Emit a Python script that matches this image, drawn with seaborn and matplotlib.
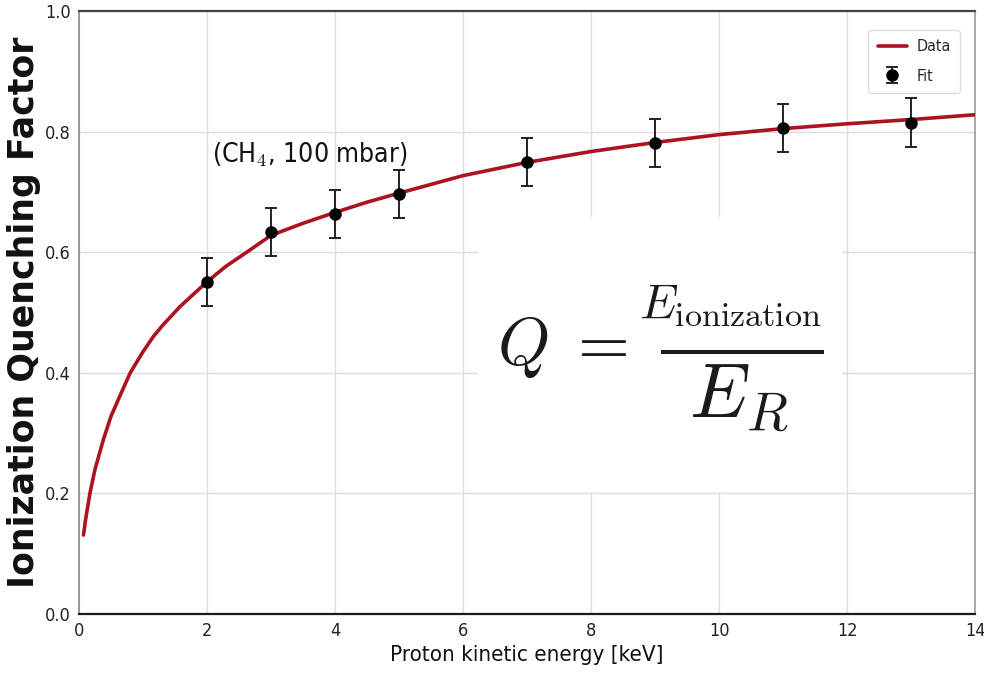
import matplotlib
matplotlib.use("Agg")
import matplotlib.pyplot as plt
import seaborn as sns
import pandas as pd
from matplotlib.patches import Rectangle

# ---- data ----
energy_pts = [2, 3, 4, 5, 7, 9, 11, 13]
quench_pts = [0.551, 0.634, 0.663, 0.697, 0.750, 0.781, 0.806, 0.815]
quench_err = [0.04, 0.04, 0.04, 0.04, 0.04, 0.04, 0.04, 0.04]

curve_x = [0.07, 0.10, 0.17, 0.25, 0.38, 0.50, 0.64, 0.80, 1.00, 1.16, 1.30, 1.58,
           2.00, 2.30, 2.62, 3.00, 3.50, 4.00, 4.50, 5.00, 6.00, 7.00, 8.00, 9.00,
           10.0, 11.0, 12.0, 13.0, 14.0]
curve_y = [0.131, 0.155, 0.200, 0.240, 0.289, 0.328, 0.362, 0.400, 0.435, 0.460,
           0.478, 0.510, 0.551, 0.577, 0.600, 0.628, 0.648, 0.666, 0.683, 0.698,
           0.727, 0.749, 0.767, 0.782, 0.795, 0.805, 0.813, 0.820, 0.828]

x_ticks = [0, 2, 4, 6, 8, 10, 12, 14]
y_ticks = [0.0, 0.2, 0.4, 0.6, 0.8, 1.0]

sns.set_theme(style="whitegrid")
plt.rcParams["font.family"] = ["DejaVu Sans"]
plt.rcParams["font.stretch"] = "condensed"
plt.rcParams["mathtext.fontset"] = "cm"

fig = plt.figure(figsize=(9.84, 6.84), dpi=100)
ax = fig.add_axes([0.0803, 0.1023, 0.9107, 0.8816])

curve_df = pd.DataFrame({"E": curve_x, "Q": curve_y})
sns.lineplot(data=curve_df, x="E", y="Q", ax=ax, color="#ad1220", linewidth=2.6,
             label="Data", zorder=3)
ax.errorbar(energy_pts, quench_pts, yerr=quench_err, fmt="o", color="black",
            ecolor="#222222", elinewidth=1.4, capsize=4, capthick=1.4,
            markersize=8, label="Fit", zorder=4)

ax.set_xlim(0, 14)
ax.set_ylim(0, 1.0)
ax.set_xticks(x_ticks)
ax.set_yticks(y_ticks)
ax.set_xticklabels([str(t) for t in x_ticks], fontsize=13, color="#222222")
ax.set_yticklabels([f"{t:.1f}" for t in y_ticks], fontsize=13, color="#222222")
ax.tick_params(axis="both", which="major", length=4, width=1, color="#555555", pad=2)
ax.grid(True, color="#dedede", linewidth=1)

for side, col in {"left": "#8a8a8a", "top": "#444444", "bottom": "#1a1a1a", "right": "#9a9a9a"}.items():
    ax.spines[side].set_visible(True)
    ax.spines[side].set_color(col)
    ax.spines[side].set_linewidth(1.6 if side in ("top", "bottom") else 1.2)

ax.set_xlabel("Proton kinetic energy [keV]", fontsize=16, color="#111111", labelpad=3)
ax.set_ylabel("Ionization Quenching Factor", fontsize=25, fontweight="bold",
              fontstretch="normal", color="#111111")
ax.yaxis.set_label_coords(-0.042, 0.5)

ax.text(2.08, 0.762, "(CH$_4$, 100 mbar)", fontsize=19, color="#111111",
        va="center", ha="left", zorder=5)

# white panel with the formula
ax.add_patch(Rectangle((0.4453, 0.203), 0.4063, 0.455, transform=ax.transAxes,
                       facecolor="white", edgecolor="none", zorder=2.5))
fcol = "#1a1a1a"
ax.text(0.4665, 0.443, r"$Q\;=$", transform=ax.transAxes, fontsize=48,
        color=fcol, ha="left", va="center", zorder=6)
ax.text(0.7266, 0.491, r"$E_{\rm ionization}$", transform=ax.transAxes, fontsize=35,
        color=fcol, ha="center", va="baseline", zorder=6)
ax.text(0.739, 0.448, r"$\overline{\;\,E_R\;\,}$", transform=ax.transAxes, fontsize=55,
        color=fcol, ha="center", va="top", zorder=6)

leg = ax.legend(loc="upper right", fontsize=11.5, frameon=True, framealpha=1,
                edgecolor="#dddddd", borderpad=0.6, labelspacing=0.9,
                handlelength=1.8, handletextpad=0.6,
                bbox_to_anchor=(0.992, 0.982))
leg.get_frame().set_linewidth(1.0)

fig.savefig("out.png", dpi=100)
